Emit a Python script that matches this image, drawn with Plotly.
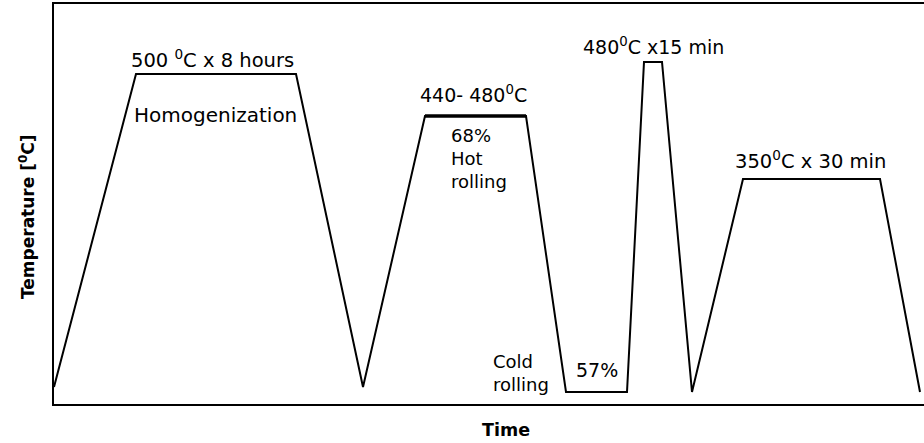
import plotly.graph_objects as go

# Schematic thermo-mechanical schedule (arbitrary units: time, relative temperature)
time = [0, 82, 242, 309, 371, 472, 512, 573, 590, 608, 638, 689, 826, 866]
temp = [17, 330, 330, 17, 288, 288, 12, 12, 342, 342, 12, 225, 225, 12]

# hot-rolling plateau drawn heavier
hot_idx = [4, 5]

# (text, x, y, anchor, size)
labels = [
    ("500 <sup>0</sup>C x 8 hours", 158, 345, "center", 19.5),
    ("Homogenization", 161, 289, "center", 20),
    ("440- 480<sup>0</sup>C", 419, 310, "center", 19),
    ("68%", 395, 269, "left", 18),
    ("Hot", 395, 246, "left", 18),
    ("rolling", 395, 223, "left", 18),
    ("480<sup>0</sup>C x15 min", 599, 358, "center", 19),
    ("350<sup>0</sup>C x 30 min", 756, 244, "center", 19.5),
    ("Cold", 437, 43, "left", 18),
    ("rolling", 437, 20, "left", 18),
    ("57%", 520, 34, "left", 19),
]

FONT = "DejaVu Sans"

fig = go.Figure()
fig.add_trace(go.Scatter(x=time, y=temp, mode="lines",
                         line=dict(color="black", width=2), hoverinfo="skip"))
fig.add_trace(go.Scatter(x=[time[i] for i in hot_idx], y=[temp[i] for i in hot_idx],
                         mode="lines", line=dict(color="black", width=3.5), hoverinfo="skip"))

for text, x, y, anchor, size in labels:
    fig.add_annotation(x=x, y=y, text=text, showarrow=False, xanchor=anchor, yanchor="middle",
                       font=dict(family=FONT, size=size, color="black"))

fig.add_annotation(x=452, yref="paper", y=-0.065, text="<b>Time</b>", showarrow=False,
                   xanchor="center", yanchor="middle",
                   font=dict(family=FONT, size=17.5, color="black"))
fig.add_annotation(xref="paper", x=-0.031, y=187, text="<b>Temperature [<sup>0</sup>C]</b>",
                   showarrow=False, textangle=-90, xanchor="center", yanchor="middle",
                   font=dict(family=FONT, size=17, color="black"))

fig.update_layout(
    width=924, height=443,
    margin=dict(l=54, r=0, t=4, b=39),
    paper_bgcolor="white", plot_bgcolor="white",
    showlegend=False,
)
fig.update_xaxes(range=[0, 870], showgrid=False, zeroline=False, showticklabels=False,
                 ticks="", showline=True, linecolor="black", linewidth=2, mirror=True)
fig.update_yaxes(range=[0, 400], showgrid=False, zeroline=False, showticklabels=False,
                 ticks="", showline=True, linecolor="black", linewidth=2)

fig.write_html("out.html")
